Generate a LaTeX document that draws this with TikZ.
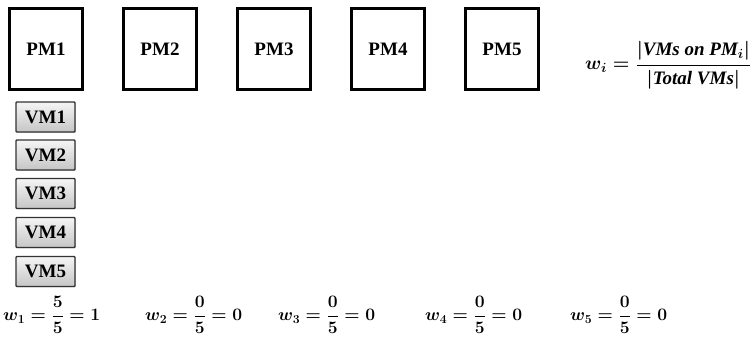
\RequirePackage{fix-cm}
\documentclass[tikz,border=0pt]{standalone}
\usepackage{amsmath,bm}
\usepackage{fontspec}
\setmainfont{Liberation Serif}
\usetikzlibrary{shadows}
\begin{document}
\begin{tikzpicture}[x=1pt,y=-1pt,
  pm/.style={draw, line width=2.8pt, minimum width=73pt, minimum height=81pt,
    inner sep=0pt, font=\fontsize{19}{21}\selectfont\bfseries},
  vm/.style={draw=black!80, line width=1.4pt, minimum width=59pt, minimum height=30pt,
    inner sep=0pt, rounded corners=0.8pt, top color=gray!8, bottom color=gray!45,
    drop shadow={shadow xshift=0.8pt, shadow yshift=-0.8pt, opacity=0.35},
    font=\fontsize{19}{21}\selectfont\bfseries},
  eq/.style={inner sep=0pt, anchor=west, font=\fontsize{19}{21}\selectfont\boldmath\bfseries},
  weq/.style={eq, font=\fontsize{17.5}{20}\selectfont\boldmath\bfseries}]
\useasboundingbox (0,0) rectangle (750,340);
\foreach \i in {1,...,5}{
  \node[pm] (pm\i) at ({46+114*(\i-1)},49) {PM\i};
}
\node[vm] (vm1) at (45.5,117) {VM1};
\node[vm] (vm2) at (45.5,155) {VM2};
\node[vm] (vm3) at (45.5,193.5) {VM3};
\node[vm] (vm4) at (45.5,232.5) {VM4};
\node[vm] (vm5) at (45.5,271.5) {VM5};
\node[eq] (wi) at (585,65) {$w_i=\dfrac{|\text{\itshape VMs on PM}_i|}{|\text{\itshape Total VMs}|}$};
\node[weq] (w1) at (3,315) {$w_1=\dfrac{5}{5}=1$};
\node[weq] (w2) at (145,315) {$w_2=\dfrac{0}{5}=0$};
\node[weq] (w3) at (278,315) {$w_3=\dfrac{0}{5}=0$};
\node[weq] (w4) at (425,315) {$w_4=\dfrac{0}{5}=0$};
\node[weq] (w5) at (570,315) {$w_5=\dfrac{0}{5}=0$};
\end{tikzpicture}
\end{document}
